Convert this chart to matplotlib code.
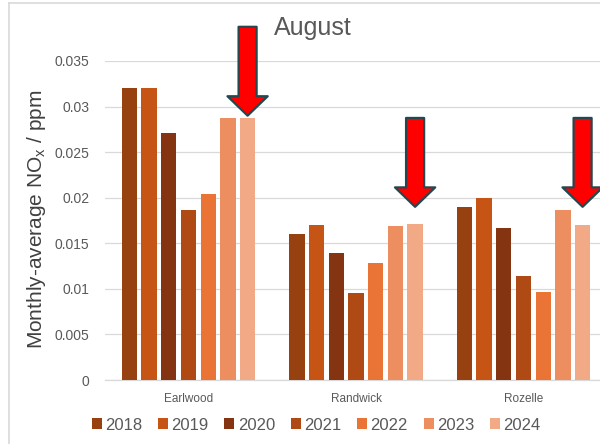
import numpy as np
import matplotlib
matplotlib.use('Agg')
import matplotlib.pyplot as plt
from matplotlib.patches import Patch
from matplotlib.lines import Line2D

plt.rcParams['font.family'] = ['Liberation Sans', 'DejaVu Sans']
plt.rcParams['mathtext.fontset'] = 'custom'
plt.rcParams['mathtext.rm'] = 'Liberation Sans'
plt.rcParams['mathtext.it'] = 'Liberation Sans'

sites = ['Earlwood', 'Randwick', 'Rozelle']
years = ['2018', '2019', '2020', '2021', '2022', '2023', '2024']
nox_2018 = [0.0320, 0.0160, 0.0190]
nox_2019 = [0.0320, 0.0170, 0.0200]
nox_2020 = [0.0271, 0.0139, 0.0167]
nox_2021 = [0.0186, 0.0096, 0.0114]
nox_2022 = [0.0204, 0.0128, 0.0097]
nox_2023 = [0.0287, 0.0169, 0.0186]
nox_2024 = [0.0288, 0.0171, 0.0170]
series = [nox_2018, nox_2019, nox_2020, nox_2021, nox_2022, nox_2023, nox_2024]
colors = ['#974010', '#C65414', '#843411', '#B04A14', '#E97436', '#EC8E5F', '#F2A985']

# arrows point down at the 2024 bar of each site (tip value)
arrow_tips = [0.0290, 0.0190, 0.0190]

grey = '#595959'
fig = plt.figure(figsize=(6, 4.44), dpi=100)
ax = fig.add_axes([104.75 / 600, 1 - 380 / 444, 502.5 / 600, 319 / 444])

x = np.arange(len(sites))
slot = 0.1176
width = 0.0913
for i, (vals, c) in enumerate(zip(series, colors)):
    ax.bar(x + (i - 3) * slot, vals, width, color=c, zorder=3)

ax.set_xlim(-0.5, 2.5)
ax.set_ylim(0, 0.035)
ax.set_yticks(np.arange(0, 0.0351, 0.005))
ax.set_yticklabels(['0', '0.005', '0.01', '0.015', '0.02', '0.025', '0.03', '0.035'])
ax.set_xticks(x)
ax.set_xticklabels(sites)
ax.tick_params(axis='y', length=0, pad=11, labelsize=10, labelcolor=grey)
ax.tick_params(axis='x', length=0, pad=9, labelsize=8.5, labelcolor=grey)
ax.grid(axis='y', color='#D9D9D9', linewidth=0.9, zorder=0)
for s in ['top', 'right', 'left']:
    ax.spines[s].set_visible(False)
ax.spines['bottom'].set_color('#D9D9D9')
ax.spines['bottom'].set_linewidth(0.9)

ax.set_ylabel('Monthly-average NO$_{\\mathrm{x}}$ / ppm', fontsize=15, color='#404040')
ax.yaxis.set_label_coords(-0.113, 0.503)

fig.text(313 / 600, 1 - 28 / 444, 'August', fontsize=18, color=grey,
         ha='center', va='center')

for xi, tip in zip(x, arrow_tips):
    ax.annotate('', xy=(xi + 3 * slot, tip), xycoords='data',
                xytext=(0, 64), textcoords='offset points',
                annotation_clip=False,
                arrowprops=dict(arrowstyle='simple,head_length=14,head_width=29,tail_width=13',
                                mutation_scale=1, fc='#FF0000', ec='#254850', lw=1.6,
                                shrinkA=0, shrinkB=0))

handles = [Patch(facecolor=c, edgecolor='none') for c in colors]
fig.legend(handles, years, loc='center', bbox_to_anchor=(0.527, 1 - 425 / 444),
           ncol=7, frameon=False, fontsize=12, labelcolor=grey,
           handlelength=0.6, handleheight=0.6, handletextpad=0.2, columnspacing=0.95)

# chart area border (left and top)
fig.add_artist(Line2D([9 / 600, 9 / 600], [0, 1 - 3 / 444], color='#D9D9D9', lw=1.2))
fig.add_artist(Line2D([9 / 600, 1], [1 - 3 / 444, 1 - 3 / 444], color='#D9D9D9', lw=1.2))

fig.savefig('out.png', dpi=100)
